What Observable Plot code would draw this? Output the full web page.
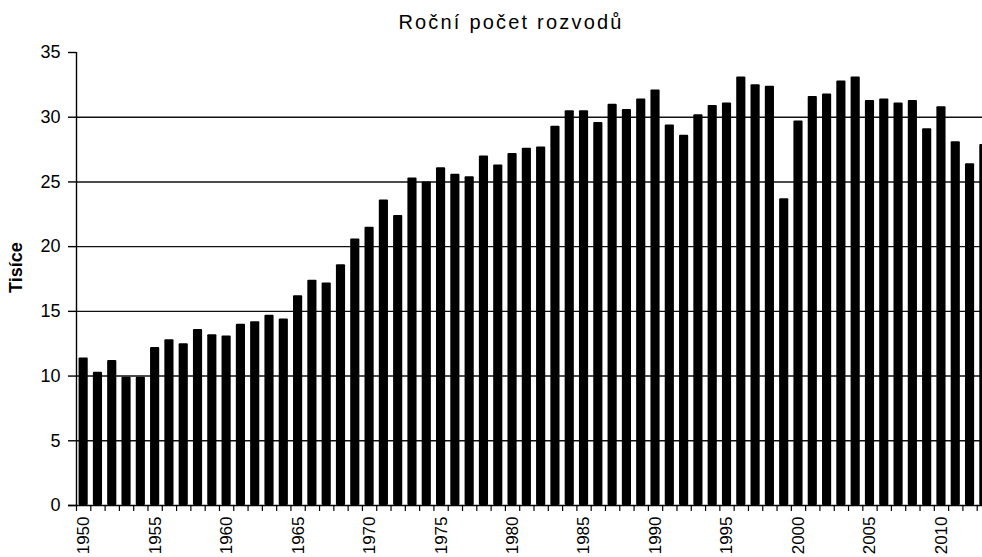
<!DOCTYPE html>
<html>
<head>
<meta charset="utf-8">
<script src="https://cdn.jsdelivr.net/npm/d3@7"></script>
<script src="https://cdn.jsdelivr.net/npm/@observablehq/plot@0.6"></script>
<style>
  html, body { margin: 0; padding: 0; background: #fff; overflow: hidden; }
  #title { width: 982px; height: 40px; box-sizing: border-box; padding-top: 10px; padding-left: 40px;
    text-align: center; font-family: "Liberation Sans", Arial, sans-serif; font-size: 20px; line-height: 24px;
    letter-spacing: 2.2px; color: #000; white-space: nowrap; }
  #chart svg { display: block; max-width: none !important; }
</style>
</head>
<body>
<div id="title">Roční počet rozvodů</div>
<div id="chart"></div>
<script>
const years = d3.range(1950, 2014);
const divorces = [
  11.4, 10.3, 11.2, 9.9, 9.9, 12.2, 12.8, 12.5, 13.6, 13.2,
  13.1, 14.0, 14.2, 14.7, 14.4, 16.2, 17.4, 17.2, 18.6, 20.6,
  21.5, 23.6, 22.4, 25.3, 25.0, 26.1, 25.6, 25.4, 27.0, 26.3,
  27.2, 27.6, 27.7, 29.3, 30.5, 30.5, 29.6, 31.0, 30.6, 31.4,
  32.1, 29.4, 28.6, 30.2, 30.9, 31.1, 33.1, 32.5, 32.4, 23.7,
  29.7, 31.6, 31.8, 32.8, 33.1, 31.3, 31.4, 31.1, 31.3, 29.1,
  30.8, 28.1, 26.4, 27.9
];
const yTicks = [0, 5, 10, 15, 20, 25, 30, 35];
const gridValues = [5, 10, 15, 20, 25, 30];
const labelYears = years.filter(y => y % 5 === 0);
const yTitle = "Tisíce";

const data = years.map((y, i) => ({year: y, value: divorces[i]}));
const W = 991, ML = 76;
const step = (W - ML) / years.length;

const plot = Plot.plot({
  width: W,
  height: 517,
  marginLeft: ML,
  marginRight: 0,
  marginTop: 12,
  marginBottom: 52,
  style: {fontFamily: "'Liberation Sans', Arial, sans-serif", fontSize: "18px", color: "#000", background: "#fff", maxWidth: "none"},
  x: {type: "band", domain: years, paddingInner: 0.36, paddingOuter: 0.18, round: false, axis: null},
  y: {domain: [0, 35], axis: null},
  marks: [
    Plot.ruleY(gridValues, {stroke: "#111", strokeWidth: 1.4}),
    Plot.barY(data, {x: "year", y: "value", fill: "#000", rx: 1}),
    Plot.ruleY([0], {stroke: "#000", strokeWidth: 1.4, insetLeft: -8}),
    Plot.ruleX([years[0]], {x: d => d, y1: 0, y2: 35, dx: -step / 2, stroke: "#000", strokeWidth: 1.4}),
    Plot.axisY(yTicks, {tickSize: 8, tickPadding: 8, stroke: "#000", strokeWidth: 1.4, label: null, fontSize: 18, letterSpacing: 0.5, tickFormat: d => String(d)}),
    Plot.axisX(years, {tickSize: 6, dx: -step / 2, stroke: "#000", strokeWidth: 1.2, tickFormat: () => "", label: null}),
    Plot.axisX(labelYears, {tickSize: 0, tickPadding: 11, tickRotate: -90, label: null, tickFormat: d => String(d), fontSize: 17, letterSpacing: 0.4}),
    Plot.text([yTitle], {frameAnchor: "left", dx: -60, dy: 14, rotate: -90, fontWeight: "bold", fontSize: 18, letterSpacing: 1, fill: "#000"})
  ]
});
document.getElementById("chart").appendChild(plot);
</script>
</body>
</html>
